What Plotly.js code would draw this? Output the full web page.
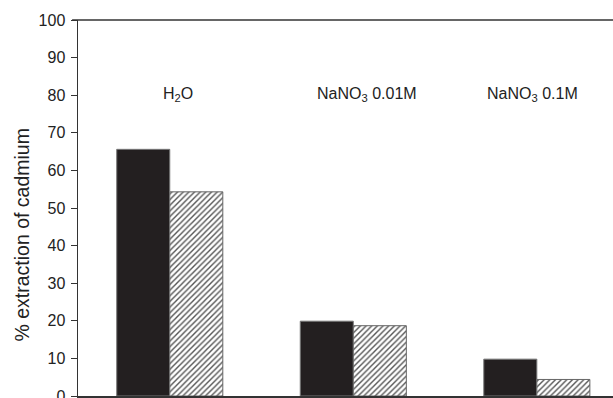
<!DOCTYPE html>
<html>
<head>
<meta charset="utf-8">
<script src="https://cdn.plot.ly/plotly-3.0.1.min.js"></script>
<style>html,body{margin:0;padding:0;background:#fff;}#chart{width:613px;height:398px;}</style>
</head>
<body>
<div id="chart"></div>
<script>
const categories = ["H<sub>2</sub>O", "NaNO<sub>3</sub> 0.01M", "NaNO<sub>3</sub> 0.1M"];
const seriesSolid = [65.6, 19.9, 9.8];
const seriesHatched = [54.3, 18.7, 4.4];
const yTickValues = [0, 10, 20, 30, 40, 50, 60, 70, 80, 90, 100];
const yAxisLabel = "% extraction of cadmium";

const catIdx = categories.map((c, i) => i);
const labelShift = [8, 14, -4];

const traces = [
  {
    type: "bar", x: catIdx, y: seriesSolid,
    marker: {color: "#231f20", line: {color: "#777", width: 1}},
    hoverinfo: "y"
  },
  {
    type: "bar", x: catIdx, y: seriesHatched,
    marker: {color: "#ffffff", line: {color: "#666", width: 1},
      pattern: {shape: "/", fgcolor: "#555", bgcolor: "#ffffff", size: 4, solidity: 0.35}},
    hoverinfo: "y"
  }
];

const layout = {
  width: 613, height: 398,
  margin: {l: 78, r: 0, t: 20, b: 2},
  paper_bgcolor: "#fff", plot_bgcolor: "#fff",
  showlegend: false,
  barmode: "group", bargap: 0.422, bargroupgap: 0,
  font: {family: "Liberation Sans, Arial, sans-serif", color: "#222"},
  xaxis: {
    range: [-0.5, 2.415], showticklabels: false, ticks: "", showgrid: false,
    zeroline: false, showline: true, linecolor: "#333", linewidth: 1.5,
    tickvals: catIdx, fixedrange: true
  },
  yaxis: {
    range: [0, 100], tickvals: yTickValues, ticks: "outside", ticklen: 6,
    tickcolor: "#333", tickwidth: 1, showgrid: false, zeroline: false,
    showline: true, linecolor: "#333", linewidth: 1.5,
    tickfont: {size: 16, color: "#222"}, ticklabelstandoff: 2, automargin: false,
    ticklabeloverflow: "allow"
  },
  annotations: categories.map((c, i) => ({
    x: i, y: 0.832, xref: "x", yref: "paper", text: c, showarrow: false,
    xshift: labelShift[i], font: {size: 16, color: "#222"}
  })).concat([{
    x: (22.5 - 78) / (613 - 78), y: 0.428, xref: "paper", yref: "paper", text: yAxisLabel,
    xanchor: "center", yanchor: "middle",
    showarrow: false, textangle: -90, font: {size: 19.5, color: "#222"}
  }]),
  shapes: [{
    type: "line", xref: "paper", yref: "paper", x0: -0.011, x1: 1, y0: 1, y1: 1,
    line: {color: "#333", width: 1.5}
  }]
};

Plotly.newPlot("chart", traces, layout, {displayModeBar: false, staticPlot: true});
</script>
</body>
</html>
